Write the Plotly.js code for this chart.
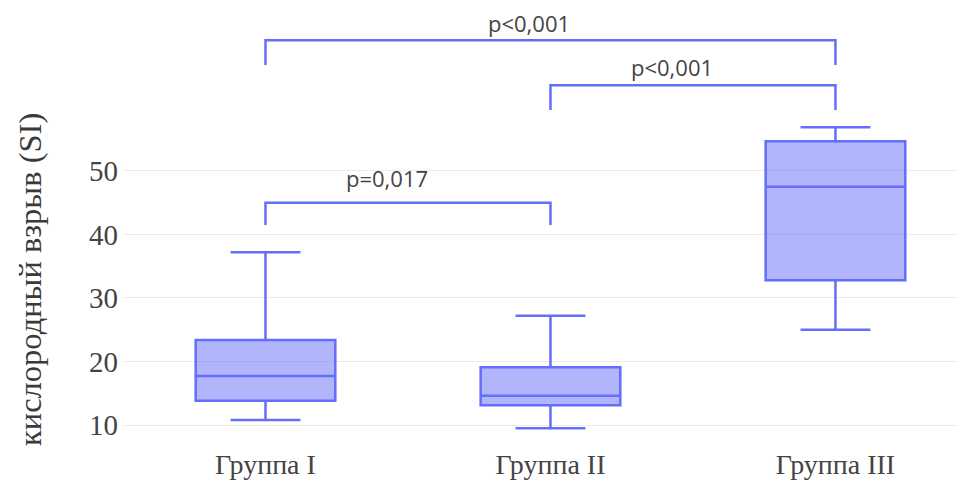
<!DOCTYPE html>
<html>
<head>
<meta charset="utf-8">
<script src="https://cdn.plot.ly/plotly-3.0.1.min.js"></script>
<style>html,body{margin:0;padding:0;background:#fff;}</style>
</head>
<body>
<div id="chart" style="width:965px;height:483px;"></div>
<script>
// Data
const categories = ["Группа I", "Группа II", "Группа III"];
const lowerWhisker = [10.8, 9.5, 25.0];
const q1Values = [13.8, 13.1, 32.8];
const medianValues = [17.7, 14.6, 47.5];
const q3Values = [23.4, 19.1, 54.7];
const upperWhisker = [37.2, 27.2, 56.9];
const yTickValues = [10, 20, 30, 40, 50];
const yTitle = "кислородный взрыв (SI)";

// Significance brackets
const bracketFrom = [0, 1, 0];
const bracketTo = [2, 2, 1];
const bracketTop = [70.6, 63.5, 45.0];
const bracketLegBottom = [66.7, 59.6, 41.5];
const bracketLabels = ["p<0,001", "p<0,001", "p=0,017"];

const color = "#636efa";
const labelLift = [0, 1, 8];

const trace = {
  type: "box",
  x: categories,
  q1: q1Values,
  median: medianValues,
  q3: q3Values,
  lowerfence: lowerWhisker,
  upperfence: upperWhisker,
  width: 0.49,
  line: {color: color, width: 2.5},
  fillcolor: "rgba(99,110,250,0.5)",
  whiskerwidth: 0.5,
  boxpoints: false,
  hoverinfo: "skip",
  showlegend: false
};

const shapes = [];
const annotations = [];
for (let i = 0; i < bracketFrom.length; i++) {
  const a = bracketFrom[i], b = bracketTo[i];
  shapes.push({
    type: "path",
    xref: "x", yref: "y",
    path: `M ${a} ${bracketLegBottom[i]} L ${a} ${bracketTop[i]} L ${b} ${bracketTop[i]} L ${b} ${bracketLegBottom[i]}`,
    line: {color: color, width: 2.5}
  });
  annotations.push({
    xref: "x", yref: "y",
    x: (a + b) / 2, y: bracketTop[i],
    yanchor: "bottom", yshift: labelLift[i], xshift: -21,
    text: bracketLabels[i],
    showarrow: false,
    font: {family: "Open Sans, Liberation Sans, sans-serif", size: 22, color: "#444"}
  });
}
annotations.push({
  xref: "paper", yref: "paper",
  x: -0.1114, y: 0.3816,
  xanchor: "center", yanchor: "middle",
  textangle: -90,
  text: yTitle,
  showarrow: false,
  font: {family: "Liberation Serif, Times New Roman, serif", size: 32.5, color: "#3a3a3a"}
});

const layout = {
  width: 965, height: 483,
  margin: {l: 123, r: 7, t: 10, b: 38},
  paper_bgcolor: "#fff",
  plot_bgcolor: "#fff",
  xaxis: {
    type: "category",
    range: [-0.5, 2.43],
    showgrid: false,
    zeroline: false,
    showline: false,
    ticks: "",
    tickfont: {family: "Liberation Serif, Times New Roman, serif", size: 28, color: "#444"}
  },
  yaxis: {
    range: [6.85, 75.35],
    tickvals: yTickValues,
    ticktext: yTickValues.map(String),
    showgrid: true,
    gridcolor: "#ebebeb",
    gridwidth: 1,
    zeroline: false,
    showline: false,
    ticks: "",
    ticklabelstandoff: 4,
    tickfont: {family: "Liberation Serif, Times New Roman, serif", size: 29, color: "#444"}
  },
  shapes: shapes,
  annotations: annotations
};

Plotly.newPlot("chart", [trace], layout, {displayModeBar: false, staticPlot: true});
</script>
</body>
</html>
